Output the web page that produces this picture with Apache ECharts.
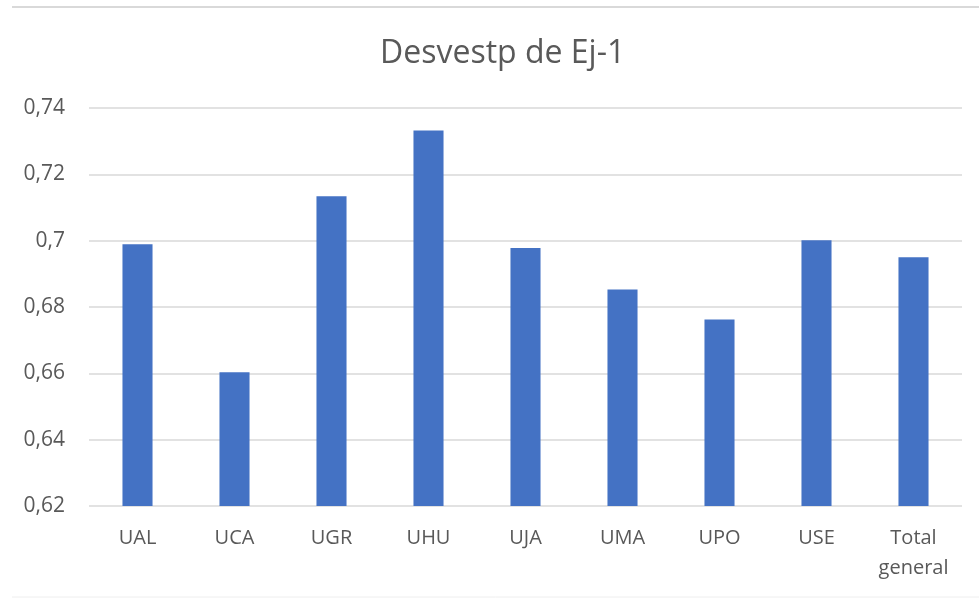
<!DOCTYPE html>
<html lang="es">
<head>
    <meta charset="UTF-8">
    <title>Desvestp de Ej-1</title>
    <style>
        html, body { margin: 0; padding: 0; background: #fff; }
        #chart { width: 979px; height: 598px; }
    </style>
    <script src="https://cdn.jsdelivr.net/npm/echarts@6/dist/echarts.min.js"></script>
</head>
<body>
    <div id="chart"></div>
    <script>
        // datos
        var universidades = ['UAL', 'UCA', 'UGR', 'UHU', 'UJA', 'UMA', 'UPO', 'USE', 'Total\ngeneral'];
        var desvestp = [0.6989, 0.6603, 0.7134, 0.7332, 0.6978, 0.6853, 0.6762, 0.7001, 0.6950];
        var ejeMin = 0.62, ejeMax = 0.74, ejeIntervalo = 0.02;

        var gris = '#595959';
        var chart = echarts.init(document.getElementById('chart'));
        chart.setOption({
            animation: false,
            textStyle: { fontFamily: 'Open Sans' },
            title: {
                text: 'Desvestp de Ej-1',
                left: 375,
                top: 33,
                textStyle: { fontFamily: 'Open Sans', fontSize: 32, fontWeight: 'normal', color: gris }
            },
            graphic: [
                { type: 'line', shape: { x1: 12, y1: 7, x2: 979, y2: 7 }, style: { stroke: '#d9d9d9', lineWidth: 2 } },
                { type: 'line', shape: { x1: 12, y1: 597, x2: 979, y2: 597 }, style: { stroke: '#eeeeee', lineWidth: 1 } }
            ],
            grid: { left: 89, right: 17, top: 108, bottom: 92 },
            xAxis: {
                type: 'category',
                data: universidades,
                axisLine: { show: false },
                axisTick: { show: false },
                axisLabel: { color: gris, fontSize: 20, margin: 17, lineHeight: 30 }
            },
            yAxis: {
                type: 'value',
                min: ejeMin,
                max: ejeMax,
                interval: ejeIntervalo,
                axisLine: { show: false },
                axisTick: { show: false },
                splitLine: { lineStyle: { color: '#d9d9d9', width: 1.5 } },
                axisLabel: {
                    color: gris, fontSize: 21, margin: 24,
                    formatter: function (v) { return String(+v.toFixed(2)).replace('.', ','); }
                }
            },
            series: [{
                type: 'bar',
                data: desvestp,
                barWidth: '31%',
                itemStyle: { color: '#4472C4' }
            }]
        });
    </script>
</body>
</html>
